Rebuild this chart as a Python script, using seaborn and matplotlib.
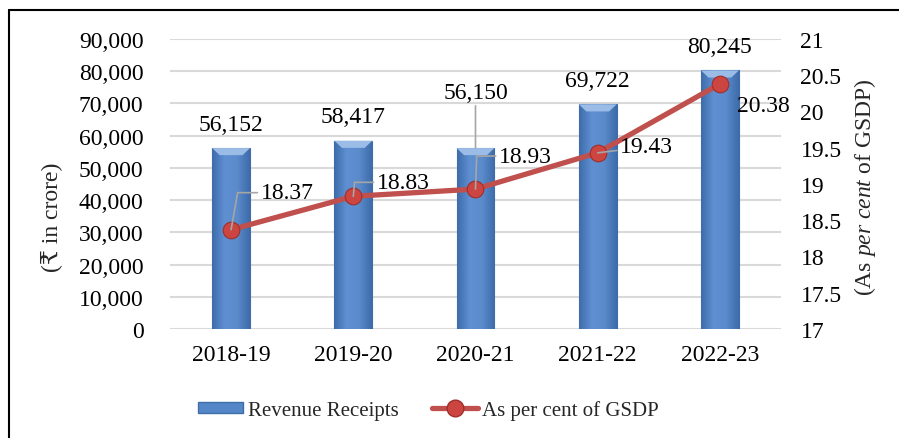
import numpy as np
import matplotlib
matplotlib.use("Agg")
import matplotlib.pyplot as plt
import seaborn as sns
from matplotlib.colors import LinearSegmentedColormap
from matplotlib.lines import Line2D
from matplotlib.patches import Patch

years = ["2018-19", "2019-20", "2020-21", "2021-22", "2022-23"]
revenue = [56152, 58417, 56150, 69722, 80245]
pct_gsdp = [18.37, 18.83, 18.93, 19.43, 20.38]

revenue_labels = ["56,152", "58,417", "56,150", "69,722", "80,245"]
pct_labels = ["18.37", "18.83", "18.93", "19.43", "20.38"]

BAR_BLUE = "#4F81BD"
LINE_RED = "#C0504D"
GRID = "#D9D9D9"
LEADER = "#A6A6A6"

sns.set_theme(style="white")
plt.rcParams["font.family"] = ["Liberation Serif", "DejaVu Serif", "DejaVu Sans"]
plt.rcParams["mathtext.fontset"] = "custom"
plt.rcParams["mathtext.rm"] = "Liberation Serif"
plt.rcParams["mathtext.it"] = "Liberation Serif:italic"
FS = 17

fig = plt.figure(figsize=(8.99, 4.39), dpi=100)
ax = fig.add_axes([170 / 899, 1 - 330 / 439, 611 / 899, 290 / 439])

# bars
sns.barplot(x=years, y=revenue, color=BAR_BLUE, width=0.31, ax=ax,
            edgecolor="#3F6DA8", linewidth=0.8, zorder=2)
ax.set_ylim(0, 90000)
ax.set_yticks(np.arange(0, 90001, 10000))
ax.set_yticklabels([f"{v:,}" for v in range(0, 90001, 10000)])
ax.set_xlim(-0.5, 4.5)
ax.grid(axis="y", color=GRID, linewidth=1.5, zorder=0)
ax.set_axisbelow(True)
ax.set_xlabel("")
ax.set_ylabel("")
for s in ax.spines.values():
    s.set_visible(False)
ax.tick_params(axis="y", length=0, pad=19, labelsize=FS, colors="black")
ax.tick_params(axis="x", length=0, pad=11, labelsize=FS, colors="black")

# gradient shading inside each bar
cmap = LinearSegmentedColormap.from_list("barshade", ["#3E6CAB", "#5F90D2", "#5B8BCB", "#3E6CAB"])
grad = np.linspace(0, 1, 64).reshape(1, -1)
for p in ax.patches:
    x0, y0 = p.get_x(), p.get_y()
    w, h = p.get_width(), p.get_height()
    im = ax.imshow(grad, cmap=cmap, aspect="auto", extent=[x0, x0 + w, y0, y0 + h],
                   zorder=2.5, interpolation="bicubic")
    im.set_clip_path(p)
    # light bevel at top
    ax.fill([x0, x0 + w, x0 + w * 0.8, x0 + w * 0.2],
            [y0 + h, y0 + h, y0 + h - 2200, y0 + h - 2200],
            color="#9BBCE6", zorder=2.6, lw=0)
ax.set_xlim(-0.5, 4.5)
ax.set_ylim(0, 90000)

# bar value labels
bar_offsets = [24, 24, 56, 24, 24]
for i, (v, lab) in enumerate(zip(revenue, revenue_labels)):
    kw = {}
    if i == 2:
        kw["arrowprops"] = dict(arrowstyle="-", color=LEADER, lw=1.2, shrinkA=0, shrinkB=0)
    ax.annotate(lab, xy=(i, v), xytext=(0, bar_offsets[i] * 0.72), textcoords="offset points",
                ha="center", va="center", fontsize=FS, color="black", **kw)

# line on secondary axis
ax2 = ax.twinx()
sns.lineplot(x=np.arange(len(years)), y=pct_gsdp, ax=ax2, color=LINE_RED, linewidth=3.8,
             marker="o", markersize=12, markerfacecolor="#CC4541", markeredgecolor="#9E2F2B",
             markeredgewidth=0.8, zorder=5)
ax2.set_ylim(17, 21)
ax2.set_yticks(np.arange(17, 21.01, 0.5))
ax2.set_yticklabels(["17", "17.5", "18", "18.5", "19", "19.5", "20", "20.5", "21"])
ax2.set_xlim(-0.5, 4.5)
for s in ax2.spines.values():
    s.set_visible(False)
ax2.tick_params(axis="y", length=0, pad=14, labelsize=FS, colors="black")
ax2.grid(False)
ax2.set_ylabel("")

# line value labels with leader lines
pct_offsets = [(56, 37), (50, 14), (50, 33), (49, 6), (43, -22)]
leader_angles = [80, 85, 88, None, None]
for i, (v, lab) in enumerate(zip(pct_gsdp, pct_labels)):
    dx, dy = pct_offsets[i]
    kw = {}
    if leader_angles[i] is not None:
        kw["arrowprops"] = dict(arrowstyle="-", color=LEADER, lw=1.2, shrinkA=0, shrinkB=0,
                                connectionstyle=f"angle,angleA=0,angleB={leader_angles[i]},rad=0")
    elif i == 3:
        kw["arrowprops"] = dict(arrowstyle="-", color=LEADER, lw=1.2, shrinkA=0, shrinkB=0)
    ax2.annotate(lab, xy=(i, v), xytext=(dx * 0.72, dy * 0.72), textcoords="offset points",
                 ha="center", va="center", fontsize=FS, color="black", zorder=6, **kw)

# axis titles
fig.text(51 / 899, 1 - 217 / 439, "(₹ in crore)", rotation=90, ha="center", va="center", fontsize=FS)
fig.text(865 / 899, 1 - 187 / 439, r"(As $\mathit{per\ cent}$ of GSDP)", rotation=90,
         ha="center", va="center", fontsize=FS)

# legend
handles = [Patch(facecolor="#5587C8", edgecolor="#3F6DA8", label="Revenue Receipts"),
           Line2D([0], [0], color=LINE_RED, lw=3.8, marker="o", markersize=12,
                  markerfacecolor="#CC4541", markeredgecolor="#9E2F2B", label="As per cent of GSDP")]
fig.legend(handles=handles, loc="center", bbox_to_anchor=(428 / 899, 1 - 411 / 439), ncol=2,
           frameon=False, fontsize=15, handlelength=2.2, handletextpad=0.2, columnspacing=1.6,
           handleheight=0.5)

# outer border (left and top only visible in crop)
fig.add_artist(Line2D([9 / 899, 9 / 899], [0, 1 - 11 / 439], color="black", lw=1.5,
                      transform=fig.transFigure))
fig.add_artist(Line2D([9 / 899, 1], [1 - 11 / 439, 1 - 11 / 439], color="black", lw=1.5,
                      transform=fig.transFigure))

fig.savefig("out.png", dpi=100)
